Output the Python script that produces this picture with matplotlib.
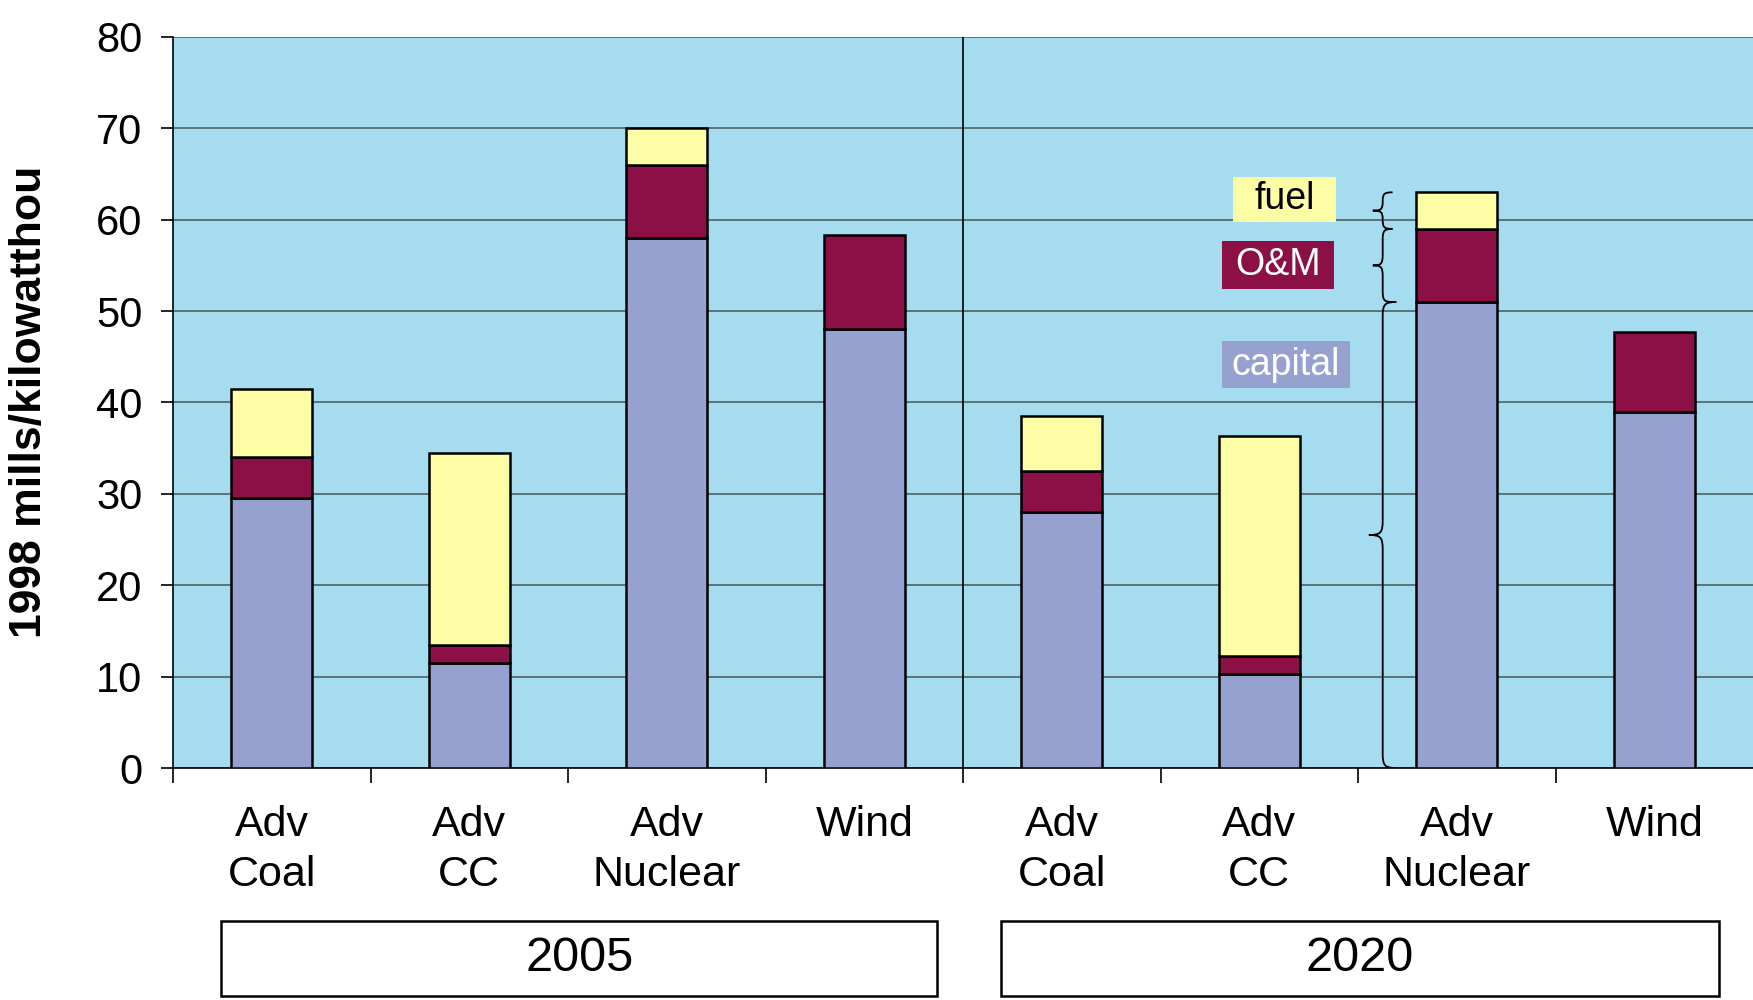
import matplotlib
matplotlib.use("Agg")
import matplotlib.pyplot as plt
from matplotlib.path import Path
from matplotlib.patches import PathPatch, Rectangle
from matplotlib.transforms import blended_transform_factory
import numpy as np

plt.rcParams['font.family'] = ['Liberation Sans', 'DejaVu Sans']

# Levelized generation cost by technology, 1998 mills per kWh
technologies = ["Adv\nCoal", "Adv\nCC", "Adv\nNuclear", "Wind"]
years = ["2005", "2020"]
capital_2005 = [29.5, 11.5, 58.0, 48.0]
om_2005 = [4.5, 2.0, 8.0, 10.3]
fuel_2005 = [7.5, 21.0, 4.0, 0.0]
capital_2020 = [28.0, 10.3, 51.0, 39.0]
om_2020 = [4.5, 2.0, 8.0, 8.7]
fuel_2020 = [6.0, 24.0, 4.0, 0.0]
component_names = ["fuel", "O&M", "capital"]
y_ticks = [0, 10, 20, 30, 40, 50, 60, 70, 80]

col_capital = "#97a1cf"
col_om = "#8c0f45"
col_fuel = "#fdfda6"
col_bg = "#a6dcf0"

capital = capital_2005 + capital_2020
om = om_2005 + om_2020
fuel = fuel_2005 + fuel_2020
labels = technologies + technologies
x = np.arange(len(labels))

fig = plt.figure(figsize=(17.53, 10), dpi=100)
ax = fig.add_axes([0.0987, 0.232, 0.9013, 0.731])
ax.set_facecolor(col_bg)

w = 0.41
ax.bar(x, capital, w, color=col_capital, edgecolor="black", linewidth=1.8, zorder=3)
ax.bar(x, om, w, bottom=capital, color=col_om, edgecolor="black", linewidth=1.8, zorder=3)
bottom_fuel = [c + o for c, o in zip(capital, om)]
fuel_x = [xi for xi, f in zip(x, fuel) if f > 0]
fuel_b = [b for b, f in zip(bottom_fuel, fuel) if f > 0]
fuel_h = [f for f in fuel if f > 0]
ax.bar(fuel_x, fuel_h, w, bottom=fuel_b, color=col_fuel, edgecolor="black", linewidth=1.8, zorder=3)

ax.set_xlim(-0.5, 7.5)
ax.set_ylim(0, 80)
ax.set_yticks(y_ticks)
ax.set_yticklabels([str(t) for t in y_ticks], fontsize=30)
ax.tick_params(axis="y", length=9, width=1.2, pad=13, colors="black")
ax.yaxis.grid(True, color="#4e6264", linewidth=1.2, zorder=1)

ax.set_xticks(x)
ax.set_xticklabels(labels, fontsize=31, va="top", linespacing=1.3)
ax.tick_params(axis="x", which="major", length=0, pad=27)
ax.set_xticks(np.arange(-0.5, 7.0, 1.0), minor=True)
ax.tick_params(axis="x", which="minor", length=11, width=1.2, direction="out")

for s in ["top", "right"]:
    ax.spines[s].set_visible(False)
ax.spines["left"].set_linewidth(1.2)
ax.spines["bottom"].set_linewidth(1.2)

# Separator between the two forecast years
ax.plot([3.5, 3.5], [80, 0], color="black", linewidth=1.2, zorder=4)

# Year boxes below the category labels
trans = blended_transform_factory(ax.transData, ax.transAxes)
for (x0, x1), yr in zip([(-0.257, 3.37), (3.69, 7.33)], years):
    ax.add_patch(Rectangle((x0, -0.312), x1 - x0, 0.103, transform=trans,
                           facecolor="white", edgecolor="black", linewidth=1.8,
                           clip_on=False))
    ax.text((x0 + x1) / 2, -0.2605, yr, transform=trans, ha="center", va="center",
            fontsize=35)

# Component key boxes
key_boxes = [
    (4.867, 59.8, 0.52, 4.9, col_fuel, "black"),
    (4.81, 52.4, 0.57, 5.3, col_om, "white"),
    (4.81, 41.6, 0.65, 5.1, col_capital, "white"),
]
for (bx, by, bw, bh, fc, tc), name in zip(key_boxes, component_names):
    ax.add_patch(Rectangle((bx, by), bw, bh, facecolor=fc, edgecolor="none", zorder=4))
    ax.text(bx + bw / 2, by + bh / 2, name, ha="center", va="center",
            fontsize=27, color=tc, zorder=5)


def curly_brace(ax, xs, y0, y1, d, r):
    """Left-pointing curly brace with its stem at xs, spanning y0..y1."""
    ym = (y0 + y1) / 2
    r = min(r, (y1 - y0) / 4)
    verts = [
        (xs + d, y1),
        (xs + d * 0.15, y1), (xs, y1 - r * 0.15), (xs, y1 - r),
        (xs, ym + r),
        (xs, ym + r * 0.15), (xs - d * 0.15, ym), (xs - d, ym),
        (xs - d * 0.15, ym), (xs, ym - r * 0.15), (xs, ym - r),
        (xs, y0 + r),
        (xs, y0 + r * 0.15), (xs + d * 0.15, y0), (xs + d, y0),
    ]
    codes = [Path.MOVETO,
             Path.CURVE4, Path.CURVE4, Path.CURVE4,
             Path.LINETO,
             Path.CURVE4, Path.CURVE4, Path.CURVE4,
             Path.CURVE4, Path.CURVE4, Path.CURVE4,
             Path.LINETO,
             Path.CURVE4, Path.CURVE4, Path.CURVE4]
    ax.add_patch(PathPatch(Path(verts, codes), facecolor="none", edgecolor="black",
                           linewidth=1.3, zorder=5))


nuc = 6
curly_brace(ax, 5.625, bottom_fuel[nuc], bottom_fuel[nuc] + fuel[nuc], 0.05, 1.2)
curly_brace(ax, 5.625, capital[nuc], bottom_fuel[nuc], 0.05, 1.2)
curly_brace(ax, 5.625, 0, capital[nuc], 0.07, 1.6)

fig.text(0.017, 0.598, "1998 mills/kilowatthou", rotation=90, ha="center", va="center",
         fontsize=32, fontweight="bold")

fig.savefig("out.png", dpi=100, facecolor="white")
